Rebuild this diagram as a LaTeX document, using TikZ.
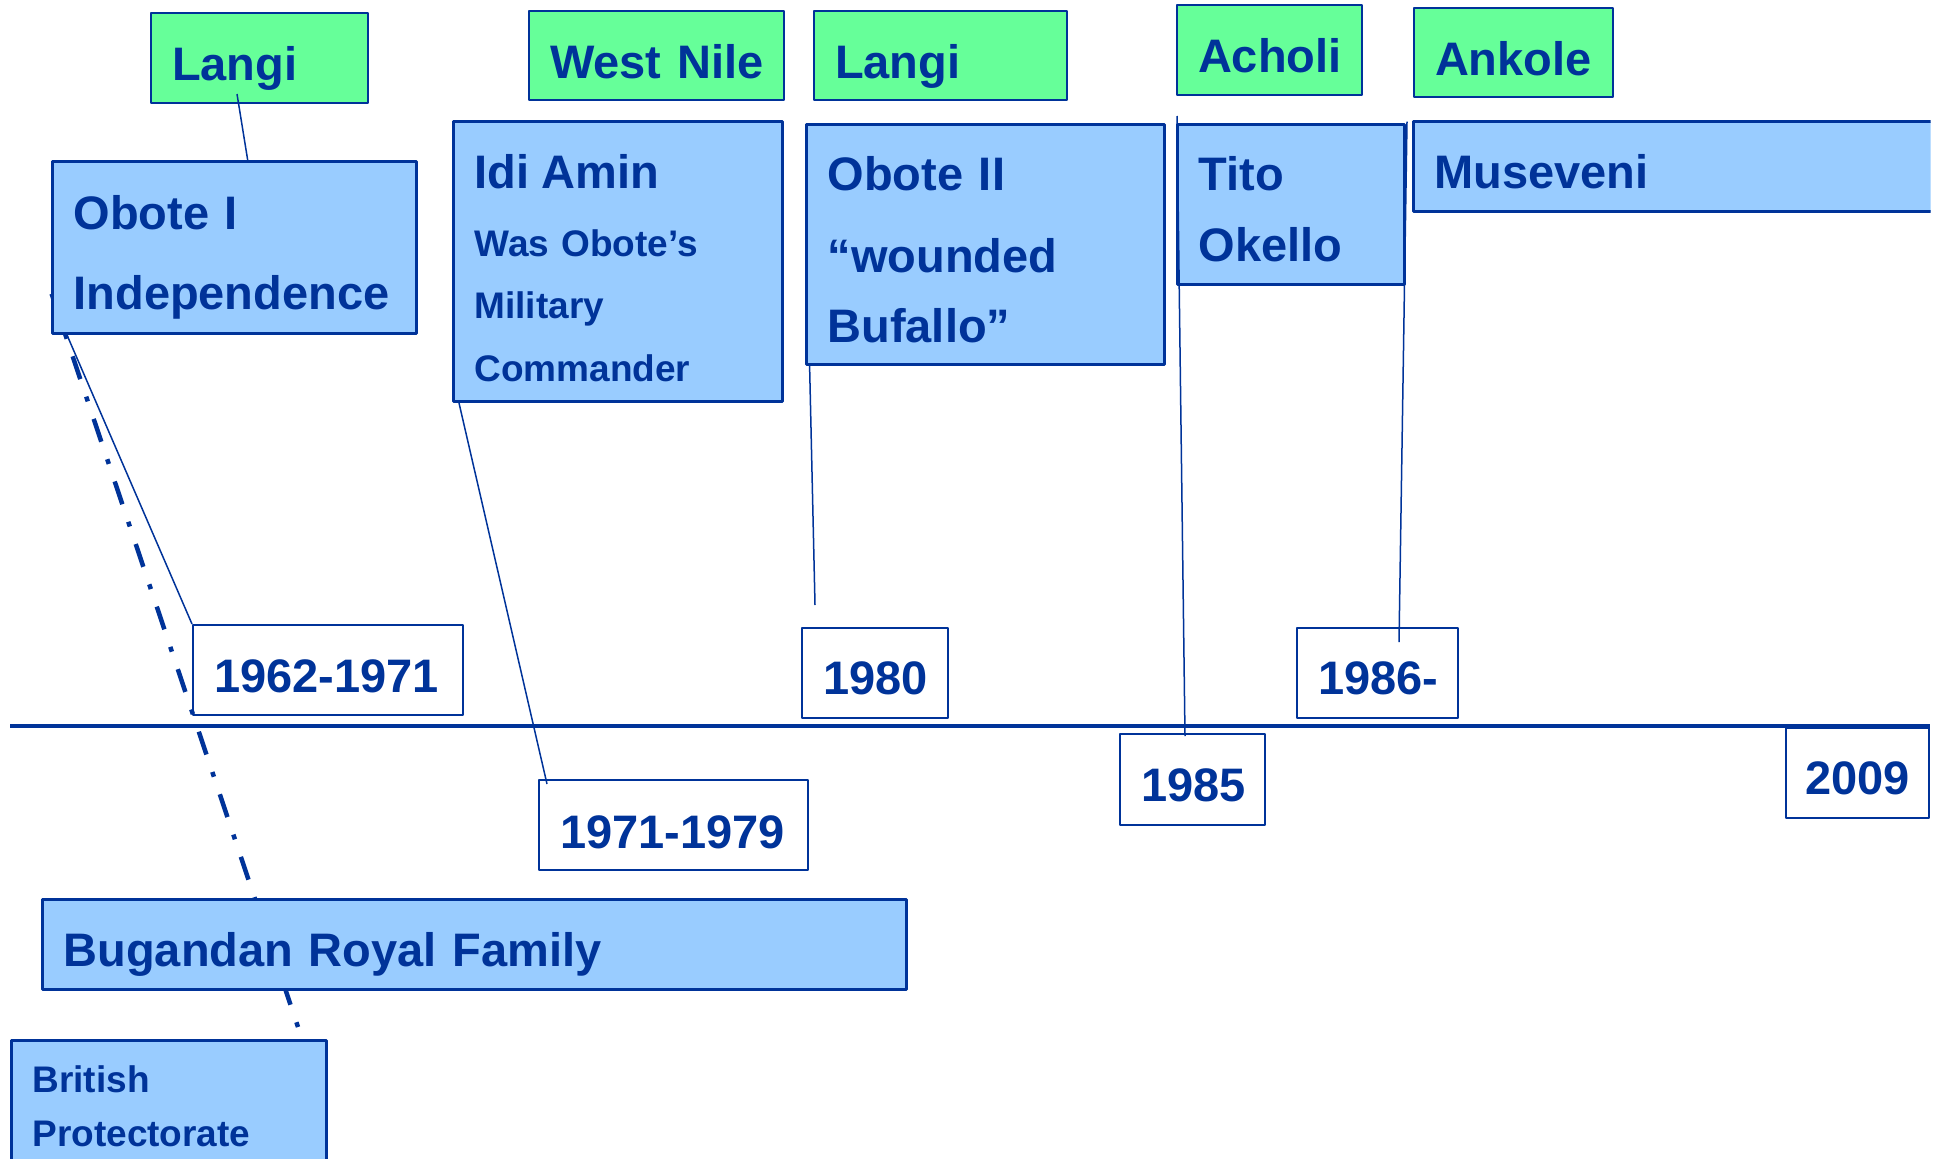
\documentclass[tikz,border=0pt]{standalone}
\usepackage{fontspec}
\setmainfont{Liberation Sans}
\definecolor{strokecol}{rgb}{0.0,0.2,0.6}
\definecolor{bluefill}{rgb}{0.6,0.8,1.0}
\definecolor{greenfill}{rgb}{0.4,1.0,0.6}
\pgfdeclarelayer{bg}
\pgfsetlayers{bg,main}
\begin{document}
\begin{tikzpicture}[>=latex,line join=bevel,
  box/.append style={anchor=north west, inner xsep=21bp, inner ysep=0bp, align=left, text=strokecol, text height=67bp, font=\fontsize{47bp}{80bp}\selectfont\bfseries},
  tribebox/.append style={box, draw=strokecol, fill=greenfill, line width=2bp},
  rulerbox/.append style={box, draw=strokecol, fill=bluefill, line width=3bp},
  yearbox/.append style={box, draw=strokecol, line width=2bp},
  big/.style={font=\fontsize{47bp}{#1}\selectfont\bfseries},
  small/.style={font=\fontsize{37bp}{#1}\selectfont\bfseries},
  link/.append style={draw=strokecol, line width=1.5bp},
  dashdot/.append style={draw=strokecol, line width=4.5bp, dash pattern=on 5bp off 18.5bp on 24bp off 18.5bp},
  timeline/.append style={draw=strokecol, line width=4bp} ]
  \useasboundingbox (0bp,0bp) rectangle (1939bp,-1159bp);
  \pgfsetlinewidth{1.5bp}
%%
\pgfsetcolor{strokecol}
  % Axis: 1962 -- 2009
  \coordinate (t0) at (10bp,-725.5bp);
  \coordinate (t1) at (1930bp,-725.5bp);
  \draw [timeline] (t0) -- (t1);
  % Node: langi1
\begin{scope}
  \pgfsetstrokecolor{strokecol}
  \draw (150bp,-12bp) node [tribebox, text width=175bp, text depth=23bp] (langi1) {Langi};
\end{scope}
  % Node: westnile
\begin{scope}
  \pgfsetstrokecolor{strokecol}
  \draw (528bp,-10bp) node [tribebox, text width=213bp, text depth=22bp] (westnile) {West~Nile};
\end{scope}
  % Node: langi2
\begin{scope}
  \pgfsetstrokecolor{strokecol}
  \draw (813bp,-10bp) node [tribebox, text width=211bp, text depth=22bp] (langi2) {Langi};
\end{scope}
  % Node: acholi
\begin{scope}
  \pgfsetstrokecolor{strokecol}
  \draw (1176bp,-4bp) node [tribebox, text width=143bp, text depth=23bp] (acholi) {Acholi};
\end{scope}
  % Node: ankole
\begin{scope}
  \pgfsetstrokecolor{strokecol}
  \draw (1413bp,-7bp) node [tribebox, text width=157bp, text depth=22bp] (ankole) {Ankole};
\end{scope}
  % Node: obote1
\begin{scope}
  \pgfsetstrokecolor{strokecol}
  \draw (51bp,-160bp) node [rulerbox, big=80bp, text width=322bp, text height=68bp, text depth=104bp] (obote1) {Obote I\\Independence};
\end{scope}
  % Node: idiamin
\begin{scope}
  \pgfsetstrokecolor{strokecol}
  \draw (452bp,-120bp) node [rulerbox, small=62.5bp, text width=287bp, text depth=213bp] (idiamin) {{\fontsize{47bp}{62.5bp}\selectfont Idi Amin}\\[5bp]Was Obote’s\\Military\\Commander};
\end{scope}
  % Node: obote2
\begin{scope}
  \pgfsetstrokecolor{strokecol}
  \draw (805bp,-123bp) node [rulerbox, big=70bp, text width=316bp, text height=66bp, text depth=174bp] (obote2) {Obote II\\[12bp]“wounded\\Bufallo”};
\end{scope}
  % Node: tito
\begin{scope}
  \pgfsetstrokecolor{strokecol}
  \draw (1176bp,-123bp) node [rulerbox, big=71bp, text width=185bp, text height=66bp, text depth=94bp] (tito) {Tito\\Okello};
\end{scope}
  % Node: museveni
\begin{scope}
  \clip (0bp,0bp) rectangle (1930.5bp,-1159bp);
  \pgfsetstrokecolor{strokecol}
  \draw (1412bp,-120bp) node [rulerbox, text width=498bp, text depth=23bp] (museveni) {Museveni};
\end{scope}
  % Node: bugandan
\begin{scope}
  \pgfsetstrokecolor{strokecol}
  \draw (41bp,-897.5bp) node [rulerbox, text width=822bp, text height=67.5bp, text depth=23bp] (bugandan) {Bugandan Royal Family};
\end{scope}
  % Node: british
\begin{scope}
  \pgfsetstrokecolor{strokecol}
  \draw (10bp,-1039bp) node [rulerbox, small=53.6bp, text width=273bp, text height=52bp, text depth=78bp] (british) {British\\Protectorate};
\end{scope}
  % Node: y1962
\begin{scope}
  \pgfsetstrokecolor{strokecol}
  \draw (192bp,-624bp) node [yearbox, text width=228bp, text depth=23bp] (y1962) {1962-1971};
\end{scope}
  % Node: y1971
\begin{scope}
  \pgfsetstrokecolor{strokecol}
  \draw (538bp,-779bp) node [yearbox, text width=227bp, text height=68bp, text depth=22bp] (y1971) {1971-1979};
\end{scope}
  % Node: y1980
\begin{scope}
  \pgfsetstrokecolor{strokecol}
  \draw (801bp,-627bp) node [yearbox, text width=104bp, text height=66bp, text depth=24bp] (y1980) {1980};
\end{scope}
  % Node: y1985
\begin{scope}
  \pgfsetstrokecolor{strokecol}
  \draw (1119bp,-733bp) node [yearbox, text width=103bp, text depth=24bp] (y1985) {1985};
\end{scope}
  % Node: y1986
\begin{scope}
  \pgfsetstrokecolor{strokecol}
  \draw (1296bp,-627bp) node [yearbox, text width=119bp, text height=66bp, text depth=24bp] (y1986) {1986-};
\end{scope}
  % Node: y2009
\begin{scope}
  \pgfsetstrokecolor{strokecol}
  \draw (1785bp,-727bp) node [yearbox, inner xsep=19bp, text width=105bp, text height=66bp, text depth=24bp] (y2009) {2009};
\end{scope}
  % Edge: langi1 -- obote1
  \draw [link] ([xshift=87bp,yshift=10bp]langi1.south west) -- ([xshift=197bp,yshift=-2bp]obote1.north west);
  % Edge: obote1 -- y1962
  \draw [link] ([xshift=16bp]obote1.south west) -- (y1962.north west);
  % Edge: idiamin -- y1971
  \draw [link] ([xshift=7bp]idiamin.south west) -- ([xshift=9bp,yshift=-5bp]y1971.north west);
  % Edge: obote2 -- y1980
  \coordinate (obote2end) at (815bp,-605bp);
  \draw [link] ([xshift=4.6bp]obote2.south west) -- (obote2end);
  % Edge: tito -- y1985
  \draw [link] ([xshift=1bp,yshift=7bp]tito.north west) -- ([xshift=66bp,yshift=-3bp]y1985.north west);
  % Edge: museveni -- y1986
  \draw [link] ([xshift=-5bp,yshift=-1.7bp]museveni.north west) -- ([xshift=103bp,yshift=-15bp]y1986.north west);
  % Edge: british -- obote1
\begin{pgfonlayer}{bg}
  \draw [dashdot] ([xshift=288bp,yshift=12bp]british.north west) -- ([xshift=-4bp,yshift=-120bp]obote1.north west);
\end{pgfonlayer}
%
\end{tikzpicture}
\end{document}
